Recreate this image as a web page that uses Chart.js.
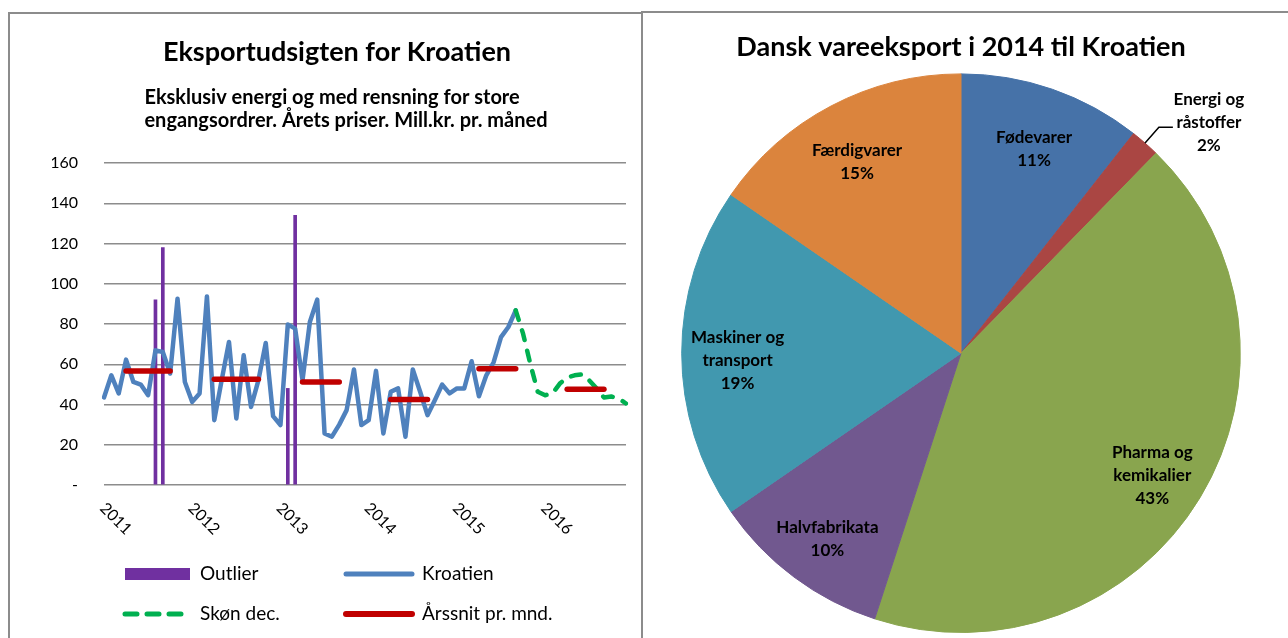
<!DOCTYPE html>
<html>
<head>
<meta charset="utf-8">
<title>Eksportudsigten for Kroatien</title>
<script src="https://cdn.jsdelivr.net/npm/chart.js@4.4.0/dist/chart.umd.min.js"></script>
<style>
  html, body { margin: 0; padding: 0; background: #fff; }
  body { width: 1288px; height: 638px; position: relative; overflow: hidden; }
  #leftBox { position: absolute; left: 8px; top: 12px; width: 631px; height: 640px;
             border-left: 2px solid #8c8c8c; border-top: 2px solid #8c8c8c; border-right: 2px solid #8c8c8c; }
  #rightBox { position: absolute; left: 641px; top: 11px; width: 660px; height: 640px;
              border-top: 2px solid #8c8c8c; }
  #leftBox canvas, #rightBox canvas { position: absolute; left: 0; top: 0; }
</style>
</head>
<body>
<div id="leftBox"><canvas id="lineChart" width="631" height="624"></canvas></div>
<div id="rightBox"><canvas id="pieChart" width="645" height="625"></canvas></div>
<script>
var FONT = "Lato, 'DejaVu Sans', sans-serif";
Chart.defaults.font.family = FONT;
Chart.defaults.color = "#000";

// ---- data: eksport til Kroatien ----
var years = ["2011", "2012", "2013", "2014", "2015", "2016"];

var months = [];
years.forEach(function (y) {
  for (var m = 1; m <= 12; m++) months.push(y + "-" + String(m).padStart(2, "0"));
});

// Kroatien, mill.kr. pr. måned (jan 2011 - sep 2015)
var kroatien = [43.5, 54.5, 45.5, 62.3, 51.2, 49.9, 44.6, 66.9, 66.1, 55.4, 92.6, 51.2,
  41.3, 45.5, 93.7, 32.2, 52.0, 71.1, 33.1, 64.5, 38.8, 52.0, 70.6, 34.2,
  29.8, 79.8, 77.7, 52.1, 81.0, 92.1, 25.6, 24.0, 30.0, 37.2, 57.4, 29.8,
  32.2, 56.7, 25.6, 46.3, 48.0, 24.0, 57.4, 46.3, 34.7, 42.1, 49.9, 45.5,
  48.0, 48.0, 61.5, 44.1, 54.5, 61.0, 73.5, 78.5, 86.8];

// Skøn dec. (sep 2015 - dec 2016)
var skonStart = "2015-09";
var skonDec = [86.8, 75.2, 60.0, 46.3, 44.6, 45.5, 50.4, 53.4, 54.5, 55.0, 52.0, 48.0,
  43.5, 44.0, 43.0, 40.5];

// Outliers
var outlierMonths = ["2011-08", "2011-09", "2013-02", "2013-03"];
var outlierValues = [92, 118, 48, 134];

// Årssnit pr. mnd.
var arssnit = [56.7, 52.6, 51.2, 42.5, 57.8, 47.6];
var arssnitFrom = ["2011-04", "2012-04", "2013-04", "2014-04", "2015-04", "2016-04"];
var arssnitTo = ["2011-10", "2012-10", "2013-09", "2014-09", "2015-09", "2016-09"];

// Dansk vareeksport 2014, andele i pct.
var sectorNames = [["Fødevarer"], ["Energi og", "råstoffer"], ["Pharma og", "kemikalier"],
  ["Halvfabrikata"], ["Maskiner og", "transport"], ["Færdigvarer"]];
var sectorShares = [10.6, 1.7, 42.7, 10.4, 19.2, 15.4];
var sectorColors = ["#4672A8", "#AA4643", "#89A54E", "#71588F", "#4198AF", "#DB843D"];

var mainTitle = "Eksportudsigten for Kroatien";
var subTitle = ["Eksklusiv energi og med rensning for store",
  "engangsordrer. Årets priser. Mill.kr. pr. måned"];
var pieTitle = "Dansk vareeksport i 2014 til Kroatien";

// ---- left chart ----
var skonStartIdx = months.indexOf(skonStart);

var datasets = [];
arssnit.forEach(function (v, i) {
  datasets.push({
    type: "line",
    label: "Årssnit pr. mnd.",
    data: [{ x: arssnitFrom[i], y: v }, { x: arssnitTo[i], y: v }],
    borderColor: "#C00000",
    borderWidth: 5.5,
    borderCapStyle: "round",
    pointRadius: 0,
    order: 0
  });
});
datasets.push({
  type: "line",
  label: "Skøn dec.",
  data: skonDec.map(function (v, i) { return { x: months[skonStartIdx + i], y: v }; }),
  borderColor: "#00B050",
  borderWidth: 4.5,
  borderDash: [10, 11],
  borderCapStyle: "round",
  borderJoinStyle: "round",
  pointRadius: 0,
  order: 1
});
datasets.push({
  type: "line",
  label: "Kroatien",
  data: kroatien,
  borderColor: "#4F81BD",
  borderWidth: 4.5,
  borderCapStyle: "round",
  borderJoinStyle: "round",
  pointRadius: 0,
  tension: 0,
  order: 2
});
datasets.push({
  type: "bar",
  label: "Outlier",
  data: outlierMonths.map(function (m, i) { return { x: m, y: outlierValues[i] }; }),
  backgroundColor: "#7030A0",
  barThickness: 3,
  order: 3
});

function findDs(chart, label) {
  return chart.data.datasets.find(function (d) { return d.label === label; });
}

var legendSlots = [
  { label: "Outlier", kind: "box", x0: 115, x1: 180, y: 560, tx: 190 },
  { label: "Kroatien", kind: "line", x0: 336, x1: 402, y: 560, tx: 412 },
  { label: "Skøn dec.", kind: "line", x0: 115, x1: 173, y: 600, tx: 190 },
  { label: "Årssnit pr. mnd.", kind: "line", x0: 336, x1: 402, y: 600, tx: 412 }
];

var leftDecor = {
  id: "leftDecor",
  afterDraw: function (chart) {
    var ctx = chart.ctx;
    var xs = chart.scales.x;
    var area = chart.chartArea;
    ctx.save();
    ctx.fillStyle = "#000";
    ctx.textBaseline = "middle";

    // titles
    ctx.textAlign = "center";
    ctx.font = "bold 27px " + FONT;
    ctx.fillText(mainTitle, 327, 38);
    ctx.font = "bold 20px " + FONT;
    var w = Math.max.apply(null, subTitle.map(function (s) { return ctx.measureText(s).width; }));
    ctx.textAlign = "left";
    subTitle.forEach(function (s, i) { ctx.fillText(s, 336 - w / 2, 84 + i * 23); });

    // year labels, rotated
    ctx.font = "16px " + FONT;
    years.forEach(function (y) {
      var px = xs.getPixelForValue(months.indexOf(y + "-01"));
      ctx.save();
      ctx.translate(px, area.bottom + 22);
      ctx.rotate(Math.PI / 4);
      ctx.fillText(y, -2, 0);
      ctx.restore();
    });

    // legend
    ctx.font = "19px " + FONT;
    legendSlots.forEach(function (s) {
      var ds = findDs(chart, s.label);
      if (s.kind === "box") {
        ctx.fillStyle = ds.backgroundColor;
        ctx.fillRect(s.x0, s.y - 6, s.x1 - s.x0, 12);
      } else {
        ctx.save();
        ctx.strokeStyle = ds.borderColor;
        ctx.lineWidth = ds.borderWidth + 0.5;
        ctx.lineCap = "round";
        ctx.setLineDash(ds.borderDash ? [12, 10] : []);
        ctx.beginPath();
        ctx.moveTo(s.x0, s.y);
        ctx.lineTo(s.x1, s.y);
        ctx.stroke();
        ctx.restore();
      }
      ctx.fillStyle = "#000";
      ctx.fillText(s.label, s.tx, s.y);
    });
    ctx.restore();
  }
};

new Chart(document.getElementById("lineChart").getContext("2d"), {
  type: "line",
  data: { labels: months, datasets: datasets },
  options: {
    responsive: false,
    animation: false,
    layout: { padding: { left: 42, right: 15, top: 149, bottom: 153 } },
    plugins: { legend: { display: false }, tooltip: { enabled: false } },
    scales: {
      x: { type: "category", display: false, offset: false, grid: { offset: false } },
      y: {
        min: 0,
        max: 160,
        border: { display: false },
        grid: { color: "#8c8c8c", lineWidth: 1.5, drawTicks: false },
        afterFit: function (scale) { scale.width = 52; },
        ticks: {
          stepSize: 20,
          padding: 26,
          font: { size: 16 },
          color: "#000",
          callback: function (v) { return v === 0 ? "-" : v; }
        }
      }
    }
  },
  plugins: [leftDecor]
});

// ---- right chart ----
var pieLabels = {
  id: "pieLabels",
  afterDatasetsDraw: function (chart) {
    var ctx = chart.ctx;
    var meta = chart.getDatasetMeta(0);
    var total = sectorShares.reduce(function (a, b) { return a + b; }, 0);
    ctx.save();
    ctx.font = "bold 17px " + FONT;
    ctx.fillStyle = "#000";
    ctx.strokeStyle = "#000";
    ctx.lineWidth = 1.5;
    ctx.textAlign = "center";
    ctx.textBaseline = "middle";
    meta.data.forEach(function (arc, i) {
      var p = arc.getProps(["x", "y", "startAngle", "endAngle", "outerRadius"], true);
      var mid = (p.startAngle + p.endAngle) / 2;
      var share = sectorShares[i] / total;
      var lines = sectorNames[i].concat(Math.round(share * 100) + "%");
      var cx, cy;
      if (share < 0.05) {
        var r0 = p.outerRadius, r1 = p.outerRadius + 21;
        var x0 = p.x + Math.cos(mid) * r0, y0 = p.y + Math.sin(mid) * r0;
        var x1 = p.x + Math.cos(mid) * r1, y1 = p.y + Math.sin(mid) * r1;
        ctx.beginPath();
        ctx.moveTo(x0, y0);
        ctx.lineTo(x1, y1);
        ctx.lineTo(x1 + 14, y1);
        ctx.stroke();
        cx = x1 + 14 + 36;
        cy = y1 - 5;
      } else {
        var r = p.outerRadius * 0.8;
        cx = p.x + Math.cos(mid) * r;
        cy = p.y + Math.sin(mid) * r + 7;
      }
      lines.forEach(function (s, k) {
        ctx.fillText(s, cx, cy + (k - (lines.length - 1) / 2) * 23);
      });
    });
    ctx.restore();
  }
};

new Chart(document.getElementById("pieChart").getContext("2d"), {
  type: "pie",
  data: {
    labels: sectorNames,
    datasets: [{
      data: sectorShares,
      backgroundColor: sectorColors,
      borderColor: sectorColors,
      borderWidth: 1
    }]
  },
  options: {
    responsive: false,
    animation: false,
    layout: { padding: { left: 0, right: 5, top: 0, bottom: 5 } },
    plugins: {
      legend: { display: false },
      tooltip: { enabled: false },
      title: {
        display: true,
        text: pieTitle,
        color: "#000",
        font: { size: 27, weight: "bold" },
        padding: { top: 18, bottom: 10 }
      }
    }
  },
  plugins: [pieLabels]
});
</script>
</body>
</html>
